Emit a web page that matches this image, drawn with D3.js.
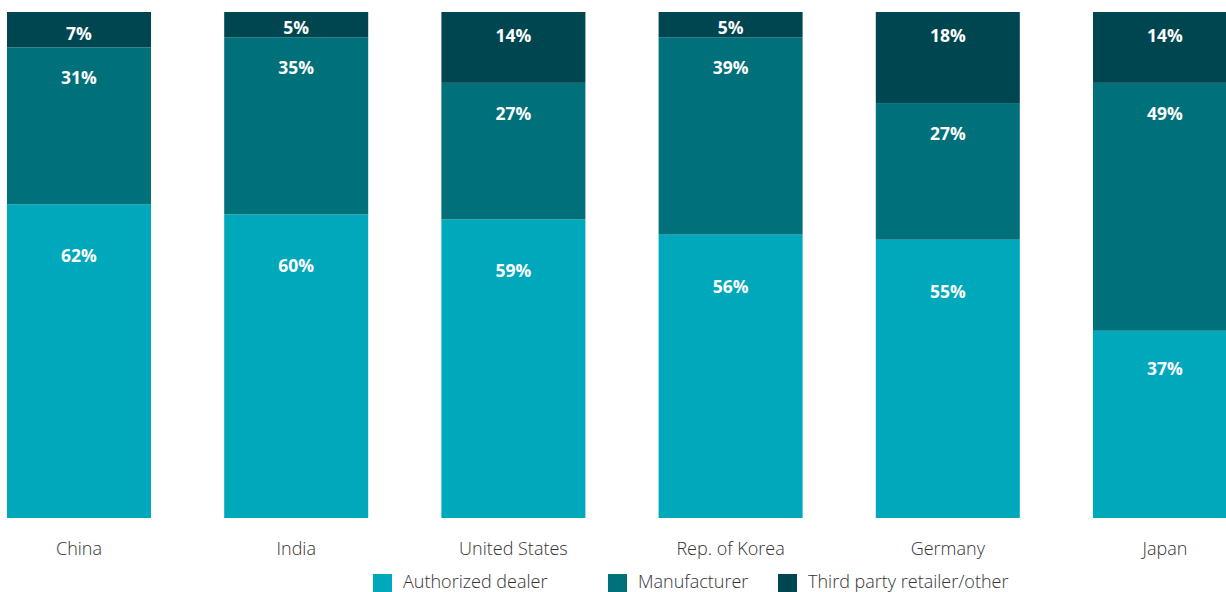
<!DOCTYPE html>
<html>
<head>
<meta charset="utf-8">
<script src="https://cdn.jsdelivr.net/npm/d3@7"></script>
<style>
  html, body { margin: 0; padding: 0; background: #fff; }
  svg { display: block; font-family: "Open Sans", "Noto Sans", sans-serif; }
</style>
</head>
<body>
<svg id="chart" width="1226" height="592"></svg>
<script>
const categories = ["China", "India", "United States", "Rep. of Korea", "Germany", "Japan"];
const seriesNames = ["Authorized dealer", "Manufacturer", "Third party retailer/other"];
const authorizedDealer = [62, 60, 59, 56, 55, 37];
const manufacturer = [31, 35, 27, 39, 27, 49];
const thirdParty = [7, 5, 14, 5, 18, 14];
const colors = ["#00a8bc", "#00707a", "#004650"];

const svg = d3.select("#chart");
const rows = categories.map((c, i) => ({
  category: c,
  "Authorized dealer": authorizedDealer[i],
  "Manufacturer": manufacturer[i],
  "Third party retailer/other": thirdParty[i]
}));
const stack = d3.stack().keys(seriesNames)(rows);

const x = d3.scaleBand().domain(categories).range([7, 1237]).paddingInner(0.337).paddingOuter(0);
const y = d3.scaleLinear().domain([0, 100]).range([518, 12]);
const color = d3.scaleOrdinal().domain(seriesNames).range(colors);

// label placement style: offset from segment top = min(h*frac, base)
const labelBase = [51, 30, 23];
const labelFrac = [0.2, 0.6, 0.6];

const layers = svg.append("g").selectAll("g").data(stack).join("g")
  .attr("fill", d => color(d.key));

layers.selectAll("rect").data(d => d).join("rect")
  .attr("x", d => x(d.data.category))
  .attr("width", x.bandwidth())
  .attr("y", d => y(d[1]))
  .attr("height", d => y(d[0]) - y(d[1]));

stack.forEach((layer, si) => {
  svg.append("g").selectAll("text").data(layer).join("text")
    .attr("x", d => x(d.data.category) + x.bandwidth() / 2)
    .attr("y", d => {
      const top = y(d[1]);
      const h = y(d[0]) - top;
      return top + Math.min(h * labelFrac[si], labelBase[si]);
    })
    .attr("text-anchor", "middle")
    .attr("dominant-baseline", "central")
    .attr("fill", "#fff")
    .attr("font-weight", 700)
    .attr("font-size", "17.5px")
    .text(d => (d[1] - d[0]) + "%");
});

// x axis labels
const xAxis = d3.axisBottom(x).tickSize(0).tickPadding(0);
const ax = svg.append("g").attr("transform", "translate(0,555)").call(xAxis);
ax.select(".domain").remove();
ax.selectAll("text")
  .attr("font-family", "'Open Sans', sans-serif")
  .attr("font-size", "18px")
  .attr("font-weight", 300)
  .attr("fill", "#333")
  .attr("dy", 0)
  .attr("y", 0);

// legend
const legendX = [373, 608, 778];
const legend = svg.append("g").selectAll("g").data(seriesNames).join("g")
  .attr("transform", (d, i) => `translate(${legendX[i]},574)`);
legend.append("rect").attr("width", 19).attr("height", 19).attr("fill", d => color(d));
legend.append("text")
  .attr("x", 30).attr("y", 14)
  .attr("font-size", "18px")
  .attr("font-weight", 300)
  .attr("fill", "#333")
  .text(d => d);
</script>
</body>
</html>
